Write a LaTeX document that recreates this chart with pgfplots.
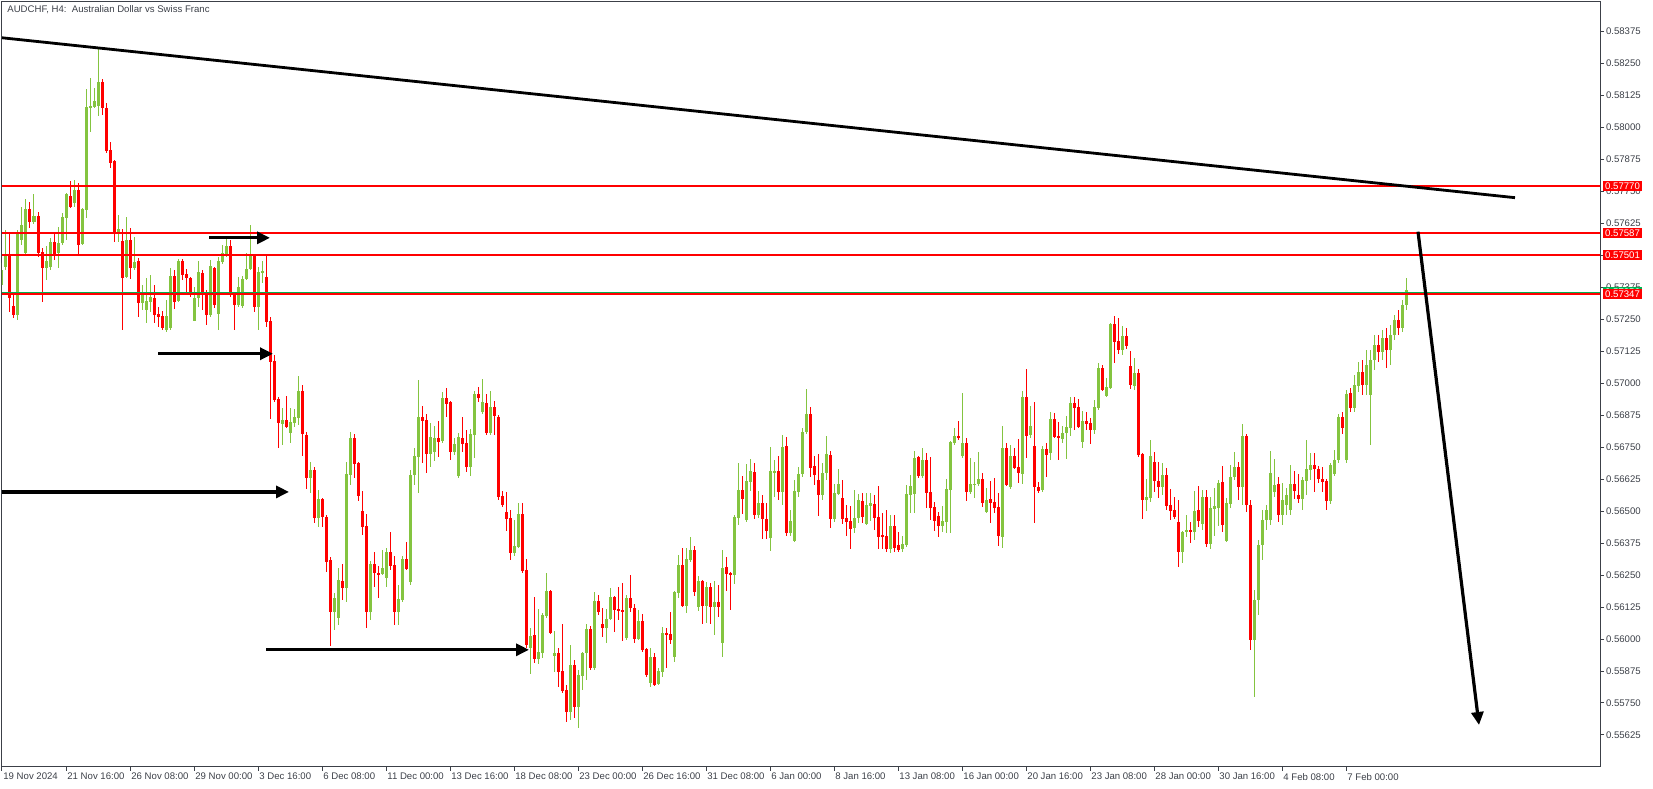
\documentclass[border=0pt]{standalone}
\usepackage{fontspec}
\setmainfont{Liberation Sans}
\usepackage{pgfplots}
\pgfplotsset{compat=1.18}
\usepackage{pgfplotstable}
\usetikzlibrary{arrows.meta}

\definecolor{upc}{RGB}{132,196,64}
\definecolor{dnc}{RGB}{255,0,0}
\definecolor{bidc}{RGB}{0,176,80}
\definecolor{framec}{RGB}{60,64,72}

% AUDCHF H4 candles: index, open, high, low, close
\pgfplotstableread{
i o h l c
0 0.57385 0.57471 0.57353 0.57443
1 0.57455 0.57600 0.57443 0.57502
2 0.57502 0.57588 0.57279 0.57334
3 0.57303 0.57353 0.57256 0.57267
4 0.57267 0.57600 0.57248 0.57588
5 0.57561 0.57690 0.57541 0.57619
6 0.57510 0.57721 0.57502 0.57682
7 0.57682 0.57709 0.57608 0.57631
8 0.57631 0.57740 0.57623 0.57654
9 0.57654 0.57670 0.57494 0.57510
10 0.57514 0.57529 0.57318 0.57451
11 0.57451 0.57537 0.57404 0.57478
12 0.57455 0.57568 0.57443 0.57553
13 0.57553 0.57584 0.57482 0.57502
14 0.57510 0.57611 0.57451 0.57549
15 0.57549 0.57666 0.57541 0.57651
16 0.57647 0.57744 0.57561 0.57740
17 0.57733 0.57791 0.57686 0.57690
18 0.57705 0.57795 0.57690 0.57756
19 0.57756 0.57783 0.57502 0.57541
20 0.57545 0.57686 0.57541 0.57682
21 0.57678 0.58151 0.57647 0.58081
22 0.58077 0.58194 0.57983 0.58085
23 0.58081 0.58155 0.58077 0.58104
24 0.58085 0.58307 0.58045 0.58178
25 0.58178 0.58190 0.58049 0.58077
26 0.58077 0.58096 0.57901 0.57909
27 0.57913 0.57944 0.57842 0.57862
28 0.57869 0.57873 0.57553 0.57588
29 0.57588 0.57658 0.57553 0.57604
30 0.57557 0.57604 0.57209 0.57412
31 0.57416 0.57651 0.57412 0.57561
32 0.57561 0.57608 0.57408 0.57451
33 0.57451 0.57572 0.57443 0.57475
34 0.57478 0.57490 0.57260 0.57314
35 0.57314 0.57385 0.57287 0.57357
36 0.57287 0.57412 0.57236 0.57322
37 0.57318 0.57424 0.57279 0.57338
38 0.57334 0.57385 0.57236 0.57267
39 0.57271 0.57299 0.57220 0.57260
40 0.57263 0.57283 0.57209 0.57217
41 0.57209 0.57326 0.57201 0.57263
42 0.57217 0.57451 0.57209 0.57420
43 0.57420 0.57443 0.57291 0.57318
44 0.57322 0.57486 0.57318 0.57478
45 0.57478 0.57486 0.57404 0.57424
46 0.57428 0.57447 0.57353 0.57412
47 0.57412 0.57416 0.57338 0.57353
48 0.57244 0.57377 0.57244 0.57334
49 0.57334 0.57478 0.57299 0.57435
50 0.57432 0.57443 0.57287 0.57346
51 0.57349 0.57365 0.57228 0.57267
52 0.57267 0.57482 0.57260 0.57459
53 0.57451 0.57455 0.57295 0.57306
54 0.57271 0.57494 0.57209 0.57478
55 0.57475 0.57541 0.57467 0.57510
56 0.57502 0.57565 0.57494 0.57537
57 0.57537 0.57561 0.57338 0.57346
58 0.57353 0.57357 0.57209 0.57306
59 0.57306 0.57416 0.57299 0.57377
60 0.57303 0.57420 0.57295 0.57408
61 0.57408 0.57510 0.57404 0.57447
62 0.57447 0.57619 0.57443 0.57498
63 0.57498 0.57502 0.57279 0.57299
64 0.57299 0.57455 0.57209 0.57435
65 0.57435 0.57478 0.57392 0.57439
66 0.57416 0.57502 0.57220 0.57240
67 0.57244 0.57260 0.56861 0.57084
68 0.57087 0.57111 0.56927 0.56935
69 0.56939 0.56947 0.56747 0.56845
70 0.56841 0.56904 0.56759 0.56857
71 0.56857 0.56951 0.56826 0.56829
72 0.56806 0.56904 0.56767 0.56849
73 0.56845 0.56900 0.56829 0.56869
74 0.56865 0.57029 0.56837 0.56970
75 0.56970 0.56994 0.56716 0.56802
76 0.56798 0.56810 0.56587 0.56630
77 0.56630 0.56693 0.56571 0.56661
78 0.56661 0.56673 0.56454 0.56474
79 0.56474 0.56583 0.56438 0.56548
80 0.56548 0.56552 0.56438 0.56478
81 0.56478 0.56485 0.56262 0.56302
82 0.56309 0.56321 0.55973 0.56106
83 0.56106 0.56180 0.56036 0.56161
84 0.56083 0.56278 0.56055 0.56231
85 0.56227 0.56294 0.56153 0.56200
86 0.56200 0.56693 0.56145 0.56646
87 0.56642 0.56810 0.56603 0.56786
88 0.56786 0.56802 0.56630 0.56685
89 0.56689 0.56693 0.56540 0.56560
90 0.56501 0.56579 0.56407 0.56438
91 0.56442 0.56489 0.56044 0.56106
92 0.56106 0.56305 0.56075 0.56294
93 0.56294 0.56341 0.56204 0.56259
94 0.56259 0.56286 0.56161 0.56255
95 0.56255 0.56349 0.56251 0.56278
96 0.56239 0.56356 0.56204 0.56341
97 0.56341 0.56419 0.56270 0.56286
98 0.56290 0.56325 0.56055 0.56106
99 0.56106 0.56212 0.56055 0.56157
100 0.56153 0.56325 0.56145 0.56313
101 0.56313 0.56380 0.56270 0.56274
102 0.56223 0.56661 0.56212 0.56642
103 0.56642 0.56747 0.56603 0.56716
104 0.56712 0.57013 0.56571 0.56869
105 0.56869 0.56912 0.56689 0.56853
106 0.56857 0.56880 0.56650 0.56724
107 0.56724 0.56845 0.56673 0.56790
108 0.56732 0.56833 0.56696 0.56786
109 0.56786 0.56853 0.56712 0.56771
110 0.56775 0.56966 0.56767 0.56943
111 0.56943 0.56982 0.56869 0.56919
112 0.56927 0.56931 0.56700 0.56732
113 0.56732 0.56786 0.56720 0.56763
114 0.56638 0.56806 0.56630 0.56790
115 0.56786 0.56869 0.56732 0.56763
116 0.56767 0.56818 0.56653 0.56673
117 0.56673 0.56822 0.56638 0.56802
118 0.56798 0.56970 0.56708 0.56958
119 0.56958 0.56986 0.56927 0.56943
120 0.56888 0.57017 0.56880 0.56927
121 0.56923 0.56958 0.56798 0.56806
122 0.56806 0.56970 0.56798 0.56908
123 0.56908 0.56931 0.56798 0.56872
124 0.56869 0.56876 0.56544 0.56556
125 0.56560 0.56579 0.56517 0.56524
126 0.56497 0.56575 0.56423 0.56470
127 0.56474 0.56505 0.56309 0.56337
128 0.56337 0.56466 0.56325 0.56364
129 0.56360 0.56532 0.56356 0.56489
130 0.56489 0.56532 0.56259 0.56266
131 0.56270 0.56313 0.55965 0.55977
132 0.55965 0.56044 0.55864 0.56012
133 0.56016 0.56165 0.55907 0.55922
134 0.55922 0.56118 0.55903 0.55950
135 0.55946 0.56102 0.55926 0.56094
136 0.56090 0.56259 0.56083 0.56188
137 0.56188 0.56192 0.56020 0.56024
138 0.55934 0.56032 0.55871 0.55946
139 0.55946 0.55965 0.55813 0.55871
140 0.55875 0.56059 0.55789 0.55797
141 0.55801 0.55821 0.55676 0.55715
142 0.55715 0.55977 0.55684 0.55899
143 0.55899 0.55918 0.55692 0.55735
144 0.55735 0.55879 0.55653 0.55860
145 0.55856 0.55950 0.55801 0.55946
146 0.55946 0.56059 0.55840 0.56040
147 0.56040 0.56051 0.55879 0.55887
148 0.55887 0.56184 0.55879 0.56149
149 0.56149 0.56173 0.56094 0.56106
150 0.56059 0.56122 0.56008 0.56044
151 0.56044 0.56118 0.55985 0.56079
152 0.56079 0.56200 0.56075 0.56165
153 0.56165 0.56169 0.56028 0.56114
154 0.56118 0.56204 0.56075 0.56110
155 0.56114 0.56219 0.55993 0.56106
156 0.56004 0.56173 0.55997 0.56161
157 0.56161 0.56251 0.56106 0.56122
158 0.56122 0.56137 0.55985 0.56001
159 0.56001 0.56114 0.55997 0.56071
160 0.56071 0.56098 0.55950 0.55958
161 0.55961 0.55965 0.55852 0.55860
162 0.55828 0.55965 0.55813 0.55930
163 0.55930 0.55946 0.55817 0.55821
164 0.55825 0.55887 0.55821 0.55875
165 0.55871 0.56047 0.55852 0.56024
166 0.56024 0.56044 0.55887 0.56016
167 0.56020 0.56106 0.55981 0.55997
168 0.55930 0.56188 0.55911 0.56184
169 0.56180 0.56329 0.56161 0.56290
170 0.56290 0.56356 0.56126 0.56130
171 0.56130 0.56356 0.56102 0.56313
172 0.56309 0.56399 0.56302 0.56349
173 0.56349 0.56364 0.56169 0.56184
174 0.56126 0.56247 0.56110 0.56227
175 0.56227 0.56231 0.56059 0.56130
176 0.56130 0.56223 0.56063 0.56204
177 0.56204 0.56219 0.56059 0.56126
178 0.56126 0.56227 0.56016 0.56145
179 0.56145 0.56212 0.56087 0.56126
180 0.55985 0.56349 0.55930 0.56278
181 0.56282 0.56321 0.56188 0.56255
182 0.56259 0.56262 0.56114 0.56251
183 0.56251 0.56485 0.56216 0.56478
184 0.56474 0.56689 0.56446 0.56583
185 0.56583 0.56638 0.56489 0.56548
186 0.56466 0.56685 0.56458 0.56618
187 0.56614 0.56704 0.56579 0.56657
188 0.56653 0.56689 0.56470 0.56485
189 0.56485 0.56579 0.56474 0.56532
190 0.56532 0.56564 0.56392 0.56470
191 0.56470 0.56532 0.56392 0.56423
192 0.56395 0.56751 0.56345 0.56657
193 0.56653 0.56700 0.56556 0.56657
194 0.56657 0.56716 0.56544 0.56575
195 0.56575 0.56798 0.56524 0.56751
196 0.56755 0.56790 0.56403 0.56415
197 0.56415 0.56505 0.56403 0.56462
198 0.56384 0.56622 0.56380 0.56579
199 0.56575 0.56673 0.56556 0.56646
200 0.56646 0.56826 0.56634 0.56810
201 0.56810 0.56978 0.56802 0.56880
202 0.56880 0.56908 0.56634 0.56669
203 0.56677 0.56716 0.56603 0.56642
204 0.56622 0.56724 0.56481 0.56564
205 0.56564 0.56689 0.56544 0.56650
206 0.56650 0.56794 0.56622 0.56724
207 0.56720 0.56736 0.56435 0.56470
208 0.56470 0.56607 0.56458 0.56571
209 0.56567 0.56665 0.56564 0.56607
210 0.56552 0.56622 0.56450 0.56470
211 0.56474 0.56524 0.56403 0.56458
212 0.56462 0.56521 0.56352 0.56431
213 0.56435 0.56583 0.56415 0.56474
214 0.56474 0.56567 0.56454 0.56544
215 0.56540 0.56571 0.56454 0.56478
216 0.56450 0.56571 0.56446 0.56524
217 0.56521 0.56571 0.56462 0.56532
218 0.56528 0.56564 0.56427 0.56474
219 0.56478 0.56599 0.56352 0.56399
220 0.56407 0.56493 0.56352 0.56399
221 0.56403 0.56505 0.56341 0.56352
222 0.56352 0.56485 0.56337 0.56442
223 0.56442 0.56485 0.56341 0.56356
224 0.56368 0.56419 0.56341 0.56349
225 0.56352 0.56403 0.56341 0.56372
226 0.56368 0.56603 0.56360 0.56567
227 0.56564 0.56642 0.56493 0.56599
228 0.56567 0.56736 0.56493 0.56708
229 0.56712 0.56716 0.56630 0.56638
230 0.56638 0.56747 0.56630 0.56700
231 0.56700 0.56728 0.56513 0.56571
232 0.56575 0.56712 0.56466 0.56513
233 0.56517 0.56536 0.56423 0.56462
234 0.56481 0.56497 0.56399 0.56442
235 0.56442 0.56521 0.56419 0.56462
236 0.56458 0.56626 0.56415 0.56587
237 0.56583 0.56775 0.56415 0.56771
238 0.56767 0.56826 0.56759 0.56794
239 0.56794 0.56853 0.56779 0.56786
240 0.56716 0.56962 0.56708 0.56767
241 0.56767 0.56786 0.56540 0.56575
242 0.56575 0.56708 0.56567 0.56607
243 0.56603 0.56693 0.56552 0.56607
244 0.56607 0.56732 0.56599 0.56626
245 0.56626 0.56650 0.56517 0.56532
246 0.56497 0.56591 0.56493 0.56544
247 0.56548 0.56618 0.56454 0.56532
248 0.56536 0.56630 0.56493 0.56513
249 0.56517 0.56571 0.56364 0.56403
250 0.56399 0.56833 0.56356 0.56747
251 0.56747 0.56767 0.56599 0.56603
252 0.56595 0.56759 0.56587 0.56716
253 0.56716 0.56747 0.56665 0.56669
254 0.56673 0.56783 0.56610 0.56650
255 0.56646 0.56970 0.56607 0.56947
256 0.56947 0.57056 0.56708 0.56794
257 0.56798 0.56912 0.56786 0.56833
258 0.56755 0.56927 0.56454 0.56595
259 0.56595 0.56614 0.56571 0.56579
260 0.56583 0.56755 0.56575 0.56743
261 0.56743 0.56767 0.56634 0.56720
262 0.56728 0.56888 0.56700 0.56861
263 0.56861 0.56884 0.56786 0.56790
264 0.56794 0.56849 0.56700 0.56786
265 0.56783 0.56833 0.56767 0.56806
266 0.56806 0.56872 0.56704 0.56829
267 0.56826 0.56947 0.56794 0.56923
268 0.56923 0.56947 0.56818 0.56904
269 0.56908 0.56939 0.56826 0.56829
270 0.56771 0.56892 0.56747 0.56853
271 0.56853 0.56888 0.56818 0.56841
272 0.56845 0.56865 0.56763 0.56818
273 0.56818 0.56935 0.56802 0.56908
274 0.56904 0.57080 0.56896 0.57060
275 0.57060 0.57072 0.56970 0.56974
276 0.56951 0.57021 0.56947 0.56986
277 0.56982 0.57236 0.56978 0.57232
278 0.57232 0.57263 0.57080 0.57162
279 0.57166 0.57256 0.57115 0.57131
280 0.57131 0.57224 0.57111 0.57185
281 0.57185 0.57217 0.57134 0.57146
282 0.57068 0.57127 0.56978 0.56994
283 0.56990 0.57099 0.56974 0.57041
284 0.57041 0.57056 0.56712 0.56720
285 0.56724 0.56728 0.56470 0.56544
286 0.56544 0.56626 0.56501 0.56556
287 0.56552 0.56779 0.56536 0.56716
288 0.56693 0.56732 0.56575 0.56618
289 0.56618 0.56693 0.56552 0.56595
290 0.56595 0.56689 0.56564 0.56642
291 0.56642 0.56669 0.56505 0.56521
292 0.56524 0.56587 0.56466 0.56501
293 0.56505 0.56556 0.56470 0.56478
294 0.56458 0.56544 0.56282 0.56341
295 0.56341 0.56423 0.56298 0.56419
296 0.56423 0.56485 0.56399 0.56427
297 0.56427 0.56458 0.56376 0.56419
298 0.56419 0.56579 0.56388 0.56501
299 0.56505 0.56599 0.56438 0.56462
300 0.56450 0.56583 0.56427 0.56556
301 0.56556 0.56583 0.56360 0.56372
302 0.56372 0.56556 0.56352 0.56513
303 0.56509 0.56591 0.56403 0.56521
304 0.56513 0.56622 0.56442 0.56610
305 0.56614 0.56677 0.56419 0.56446
306 0.56384 0.56552 0.56380 0.56532
307 0.56528 0.56681 0.56513 0.56634
308 0.56634 0.56732 0.56622 0.56673
309 0.56673 0.56693 0.56544 0.56595
310 0.56595 0.56841 0.56524 0.56794
311 0.56794 0.56802 0.56497 0.56524
312 0.56524 0.56544 0.55958 0.55997
313 0.55997 0.56192 0.55774 0.56153
314 0.56153 0.56388 0.56094 0.56368
315 0.56368 0.56505 0.56309 0.56466
316 0.56466 0.56524 0.56427 0.56505
317 0.56466 0.56736 0.56446 0.56650
318 0.56575 0.56704 0.56556 0.56603
319 0.56607 0.56634 0.56458 0.56485
320 0.56485 0.56610 0.56446 0.56544
321 0.56524 0.56591 0.56485 0.56564
322 0.56505 0.56681 0.56485 0.56607
323 0.56607 0.56657 0.56548 0.56579
324 0.56564 0.56646 0.56532 0.56548
325 0.56548 0.56634 0.56505 0.56622
326 0.56618 0.56779 0.56564 0.56665
327 0.56661 0.56728 0.56622 0.56681
328 0.56681 0.56728 0.56575 0.56665
329 0.56665 0.56677 0.56610 0.56626
330 0.56626 0.56673 0.56575 0.56614
331 0.56618 0.56626 0.56505 0.56540
332 0.56540 0.56689 0.56528 0.56681
333 0.56646 0.56740 0.56638 0.56700
334 0.56700 0.56880 0.56689 0.56869
335 0.56869 0.56888 0.56802 0.56826
336 0.56700 0.56974 0.56689 0.56958
337 0.56962 0.56982 0.56888 0.56904
338 0.56904 0.57033 0.56888 0.56994
339 0.56990 0.57084 0.56966 0.57044
340 0.57044 0.57091 0.56955 0.56994
341 0.56994 0.57131 0.56955 0.57072
342 0.56955 0.57131 0.56759 0.57091
343 0.57091 0.57189 0.57052 0.57150
344 0.57150 0.57189 0.57084 0.57123
345 0.57123 0.57209 0.57091 0.57177
346 0.57177 0.57217 0.57060 0.57131
347 0.57131 0.57228 0.57072 0.57189
348 0.57189 0.57267 0.57170 0.57248
349 0.57248 0.57287 0.57189 0.57217
350 0.57217 0.57326 0.57201 0.57306
351 0.57306 0.57412 0.57287 0.57365
}\candles

\pgfplotsset{
  wick/.style={draw=none, no markers, forget plot,
    error bars/.cd, y dir=both, y explicit, error mark=none,
    error bar style={draw=#1, line width=0.5pt}},
  body/.style={draw=none, no markers, forget plot,
    error bars/.cd, y dir=both, y explicit, error mark=none,
    error bar style={draw=#1, line width=1.5pt}},
}
\tikzset{tag/.style={fill=#1, text=white, anchor=west, inner xsep=0.9pt,
  inner ysep=0pt, minimum height=5pt}}

\begin{document}
\begin{tikzpicture}[font=\fontsize{4.8}{5.5}\selectfont]
\begin{axis}[name=ax, scale only axis, width=799pt, height=382.5pt,
  xmin=0, xmax=399.5, ymin=0.55501, ymax=0.58491,
  clip mode=individual,
  axis line style={draw=framec, line width=0.5pt},
  tick align=outside, major tick length=2pt,
  tick style={draw=framec, line width=0.5pt},
  xtick pos=left, ytick pos=right, yticklabel pos=right,
  xtick={0,16,...,336},
  xticklabels={19 Nov 2024, 21 Nov 16:00, 26 Nov 08:00, 29 Nov 00:00,
    3 Dec 16:00, 6 Dec 08:00, 11 Dec 00:00, 13 Dec 16:00, 18 Dec 08:00,
    23 Dec 00:00, 26 Dec 16:00, 31 Dec 08:00, 6 Jan 00:00, 8 Jan 16:00,
    13 Jan 08:00, 16 Jan 00:00, 20 Jan 16:00, 23 Jan 08:00, 28 Jan 00:00,
    30 Jan 16:00, 4 Feb 08:00, 7 Feb 00:00},
  xticklabel style={anchor=north west, inner xsep=0.5pt, inner ysep=1pt},
  ytick={0.55625,0.5575,0.55875,0.56,0.56125,0.5625,0.56375,0.565,0.56625,
    0.5675,0.56875,0.57,0.57125,0.5725,0.57375,0.575,0.57625,0.5775,
    0.57875,0.58,0.58125,0.5825,0.58375},
  scaled y ticks=false,
  /pgf/number format/assume math mode=true,
  yticklabel style={/pgf/number format/fixed, /pgf/number format/fixed zerofill,
    /pgf/number format/precision=5, anchor=west, inner xsep=0.8pt},
  tick label style={text=framec},
]
% candles: wicks, then bodies
\addplot[wick=upc] table[x=i,
  y expr={\thisrow{c}>=\thisrow{o} ? (\thisrow{h}+\thisrow{l})/2 : nan},
  y error expr={(\thisrow{h}-\thisrow{l})/2}] {\candles};
\addplot[wick=dnc] table[x=i,
  y expr={\thisrow{c}<\thisrow{o} ? (\thisrow{h}+\thisrow{l})/2 : nan},
  y error expr={(\thisrow{h}-\thisrow{l})/2}] {\candles};
\addplot[body=upc] table[x=i,
  y expr={\thisrow{c}>=\thisrow{o} ? (\thisrow{o}+\thisrow{c})/2 : nan},
  y error expr={max(abs(\thisrow{c}-\thisrow{o})/2,0.00001)}] {\candles};
\addplot[body=dnc] table[x=i,
  y expr={\thisrow{c}<\thisrow{o} ? (\thisrow{o}+\thisrow{c})/2 : nan},
  y error expr={max(abs(\thisrow{c}-\thisrow{o})/2,0.00001)}] {\candles};

% horizontal levels
\addplot[dnc, line width=1pt] coordinates {(0,0.57770) (399.5,0.57770)};
\addplot[dnc, line width=1pt] coordinates {(0,0.57587) (399.5,0.57587)};
\addplot[dnc, line width=1pt] coordinates {(0,0.57501) (399.5,0.57501)};
\addplot[bidc, line width=0.5pt] coordinates {(0,0.57356) (399.5,0.57356)};
\addplot[dnc, line width=1pt] coordinates {(0,0.57347) (399.5,0.57347)};

% trend line and arrows
\addplot[black, line width=1.4pt] coordinates {(0,0.58350) (378.25,0.57725)};
\addplot[black, line width=1.6pt, -{Triangle[length=6.5pt,width=6pt]}]
  coordinates {(51.75,0.57568) (67,0.57568)};
\addplot[black, line width=1.6pt, -{Triangle[length=6.5pt,width=6pt]}]
  coordinates {(39,0.57115) (67.75,0.57115)};
\addplot[black, line width=1.6pt, -{Triangle[length=6.5pt,width=6pt]}]
  coordinates {(0,0.56575) (71.75,0.56575)};
\addplot[black, line width=1.6pt, -{Triangle[length=6.5pt,width=6pt]}]
  coordinates {(66,0.55958) (131.75,0.55958)};
\addplot[black, line width=1.6pt, -{Triangle[length=6.5pt,width=6pt]}]
  coordinates {(354,0.57592) (369.25,0.55664)};

\coordinate (t1) at (axis cs:399.5,0.57770);
\coordinate (t2) at (axis cs:399.5,0.57587);
\coordinate (t3) at (axis cs:399.5,0.57501);
\coordinate (tb) at (axis cs:399.5,0.57356);
\coordinate (t4) at (axis cs:399.5,0.57347);
\end{axis}

\node[tag=dnc] at ([xshift=1.5pt]t1) {0.57770};
\node[tag=dnc] at ([xshift=1.5pt]t2) {0.57587};
\node[tag=dnc] at ([xshift=1.5pt]t3) {0.57501};
\node[tag=bidc] at ([xshift=1.5pt]tb) {0.57356};
\node[tag=dnc] at ([xshift=1.5pt]t4) {0.57347};

\node[anchor=west, inner sep=0pt, text=framec]
  at ([xshift=2.5pt,yshift=-3.9pt]ax.north west)
  {AUDCHF, H4:\ \ Australian Dollar vs Swiss Franc};

\pgfresetboundingbox
\path ([shift={(-1pt,-10.65pt)}]ax.south west) rectangle ++(826.5pt,394pt);
\end{tikzpicture}
\end{document}
